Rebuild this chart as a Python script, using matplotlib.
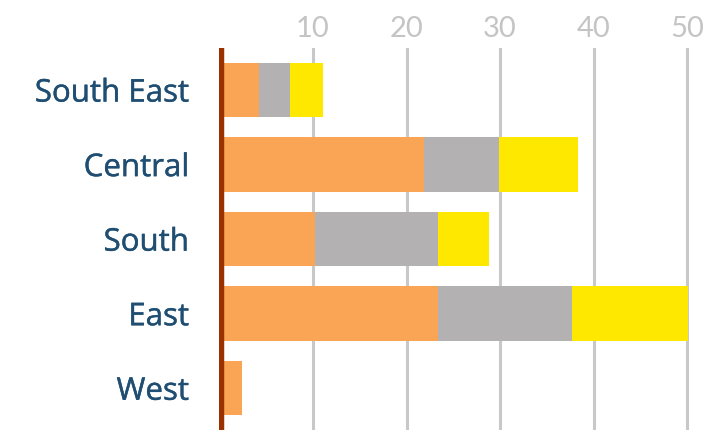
import matplotlib
matplotlib.use("Agg")
import matplotlib.pyplot as plt
import matplotlib.patheffects as pe
import numpy as np

plt.rcParams['font.family'] = ['Lato', 'DejaVu Sans']

regions = ["South East", "Central", "South", "East", "West"]
orange_vals = [4.2, 21.9, 10.2, 23.4, 2.4]
gray_vals = [3.3, 8.0, 13.2, 14.3, 0.0]
yellow_vals = [3.6, 8.4, 5.4, 12.4, 0.0]
x_ticks = [10, 20, 30, 40, 50]

fig = plt.figure(figsize=(7.19, 4.31), dpi=100, facecolor='white')
x0 = 219.5 / 719
ppu = 9.35 / 719
ax = fig.add_axes([x0, 0.0, 52 * ppu, 1 - 49 / 431])

y = np.arange(len(regions))
h = 0.73
o = np.array(orange_vals)
g = np.array(gray_vals)
yl = np.array(yellow_vals)
ax.barh(y, o, height=h, color='#F9A555', zorder=2)
ax.barh(y, g, left=o, height=h, color='#B3B1B1', zorder=2)
ax.barh(y, yl, left=o + g, height=h, color='#FFE800', zorder=2)

ax.axvline(0, color='#9C3100', linewidth=6.8, zorder=3)

ax.set_xlim(0, 52)
ax.set_ylim(4.56, -0.564)
ax.set_xticks(x_ticks)
ax.xaxis.tick_top()
ax.grid(axis='x', color='#C8C8C8', linewidth=2.2, zorder=0)
ax.set_axisbelow(True)
ax.tick_params(axis='x', length=0, pad=5, labelsize=21, labelcolor='#C4C4C4')
ax.set_yticks(y)
labels = ax.set_yticklabels(regions, family=['Open Sans', 'DejaVu Sans'])
for t in labels:
    t.set_path_effects([pe.withStroke(linewidth=0.3, foreground='#1F4E72')])
ax.tick_params(axis='y', length=0, pad=22, labelsize=22.5, labelcolor='#1F4E72')
for s in ax.spines.values():
    s.set_visible(False)

fig.savefig("out.png", dpi=100, facecolor='white')
